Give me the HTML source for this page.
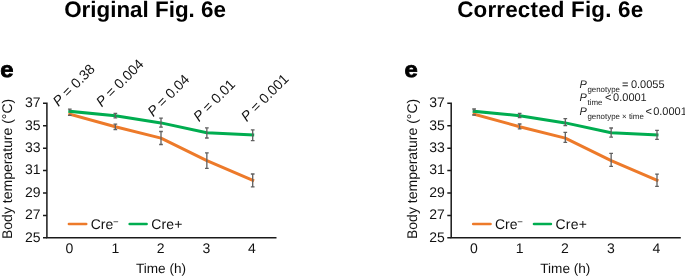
<!DOCTYPE html>
<html><head><meta charset="utf-8">
<style>
html,body{margin:0;padding:0;background:#fff;width:685px;height:276px;overflow:hidden}
svg{display:block;will-change:transform;text-rendering:geometricPrecision;font-family:"Liberation Sans",sans-serif}
.t{font-weight:bold;font-size:22.4px;fill:#000}
.lab{font-weight:bold;font-size:22.2px;fill:#000}
.tk{font-size:14px;fill:#111}
.ax{stroke:#1a1a1a;stroke-width:1.5;fill:none}
.eb{stroke:#606060;stroke-width:1.3;fill:none}
.g{stroke:#00AD50;stroke-width:3;fill:none;stroke-linejoin:round;stroke-linecap:square}
.o{stroke:#ED7A2A;stroke-width:3;fill:none;stroke-linejoin:round;stroke-linecap:square}
.pv{font-size:14px;fill:#111}
.pb{font-size:11px;fill:#222}
.sb{font-size:7.9px}
</style></head><body>
<svg width="685" height="276" viewBox="0 0 685 276">
<text class="t" x="64.2" y="17.2">Original Fig. 6e</text>
<text class="t" x="457.2" y="17.2" letter-spacing="0.19">Corrected Fig. 6e</text>
<g>
<text class="lab" transform="translate(0.2,76.9) scale(1.07,1)" stroke="#000" stroke-width="0.8">e</text>
<text class="tk" transform="translate(12.3,239) rotate(-90)">Body temperature (°C)</text>
<path class="ax" d="M43 103.35H46.9V237.85H276.5"/>
<path class="ax" d="M43 125.77H46.9M43 148.18H46.9M43 170.6H46.9M43 193.02H46.9M43 215.43H46.9M43 237.85H46.9"/>
<g class="tk" text-anchor="end">
<text x="40.5" y="107.3">37</text>
<text x="40.5" y="129.7">35</text>
<text x="40.5" y="152.1">33</text>
<text x="40.5" y="174.4">31</text>
<text x="40.5" y="196.8">29</text>
<text x="40.5" y="219.2">27</text>
<text x="40.5" y="241.6">25</text>
</g>
<g class="tk" text-anchor="middle">
<text x="69.5" y="252.5">0</text>
<text x="115.3" y="252.5">1</text>
<text x="160.6" y="252.5">2</text>
<text x="206.5" y="252.5">3</text>
<text x="252" y="252.5">4</text>
<text x="161" y="273" font-size="13.6">Time (h)</text>
</g>
<path d="M68.9 224H86.2" stroke="#ED7A2A" stroke-width="2.6" stroke-linecap="round"/>
<path d="M129.7 224H146.6" stroke="#00AD50" stroke-width="2.6" stroke-linecap="round"/>
<text class="tk" x="90.7" y="228.7">Cre<tspan font-size="9.6" dx="-0.3" dy="-4.1">−</tspan></text>
<text class="tk" x="151.2" y="228.7" letter-spacing="0.2">Cre+</text>
<path class="o" d="M69.80 114.20L115.35 126.70L161.00 138.10L206.85 160.60L252.70 180.40"/>
<path class="g" d="M69.80 111.30L115.35 115.70L161.00 122.90L206.85 132.80L252.70 135.00"/>
</g>
<path class="eb" d="M69.80 109.20V111.30M67.95 109.20H71.65M115.35 113.30V117.90M113.50 113.30H117.20M113.50 117.90H117.20M161.00 118.20V127.10M159.15 118.20H162.85M159.15 127.10H162.85M206.85 127.90V138.00M205.00 127.90H208.70M205.00 138.00H208.70M252.70 129.80V140.60M250.85 129.80H254.55M250.85 140.60H254.55M69.80 114.20V115.40M67.95 115.40H71.65M115.35 124.20V129.50M113.50 124.20H117.20M113.50 129.50H117.20M161.00 131.50V144.50M159.15 131.50H162.85M159.15 144.50H162.85M206.85 152.80V168.30M205.00 152.80H208.70M205.00 168.30H208.70M252.70 174.00V186.90M250.85 174.00H254.55M250.85 186.90H254.55"/>
<g class="pv">
<text transform="translate(58.5,107.1) rotate(-45)"><tspan font-style="italic">P</tspan> = 0.38</text>
<text transform="translate(101.8,107.6) rotate(-45)"><tspan font-style="italic">P</tspan> = 0.004</text>
<text transform="translate(153.2,117.3) rotate(-45)"><tspan font-style="italic">P</tspan> = 0.04</text>
<text transform="translate(198.9,122.3) rotate(-45)"><tspan font-style="italic">P</tspan> = 0.01</text>
<text transform="translate(246.8,122.3) rotate(-45)"><tspan font-style="italic">P</tspan> = 0.001</text>
</g>
<g transform="translate(404.3,0)">
<text class="lab" transform="translate(0.2,76.9) scale(1.07,1)" stroke="#000" stroke-width="0.8">e</text>
<text class="tk" transform="translate(12.3,239) rotate(-90)">Body temperature (°C)</text>
<path class="ax" d="M43 103.35H46.9V237.85H276.5"/>
<path class="ax" d="M43 125.77H46.9M43 148.18H46.9M43 170.6H46.9M43 193.02H46.9M43 215.43H46.9M43 237.85H46.9"/>
<g class="tk" text-anchor="end">
<text x="40.5" y="107.3">37</text>
<text x="40.5" y="129.7">35</text>
<text x="40.5" y="152.1">33</text>
<text x="40.5" y="174.4">31</text>
<text x="40.5" y="196.8">29</text>
<text x="40.5" y="219.2">27</text>
<text x="40.5" y="241.6">25</text>
</g>
<g class="tk" text-anchor="middle">
<text x="69.5" y="252.5">0</text>
<text x="115.3" y="252.5">1</text>
<text x="160.6" y="252.5">2</text>
<text x="206.5" y="252.5">3</text>
<text x="252" y="252.5">4</text>
<text x="161" y="273" font-size="13.6">Time (h)</text>
</g>
<path d="M68.9 224H86.2" stroke="#ED7A2A" stroke-width="2.6" stroke-linecap="round"/>
<path d="M129.7 224H146.6" stroke="#00AD50" stroke-width="2.6" stroke-linecap="round"/>
<text class="tk" x="90.7" y="228.7">Cre<tspan font-size="9.6" dx="-0.3" dy="-4.1">−</tspan></text>
<text class="tk" x="151.2" y="228.7" letter-spacing="0.2">Cre+</text>
<path class="o" d="M69.80 114.20L115.35 126.70L161.00 138.10L206.85 160.60L252.70 180.40"/>
<path class="g" d="M69.80 111.30L115.35 115.70L161.00 122.90L206.85 132.80L252.70 135.00"/>
</g>
<g transform="translate(404.3,0)"><path class="eb" d="M69.80 109.00V111.30M67.95 109.00H71.65M115.35 113.30V117.50M113.50 113.30H117.20M113.50 117.50H117.20M161.00 118.60V125.60M159.15 118.60H162.85M159.15 125.60H162.85M206.85 128.00V137.20M205.00 128.00H208.70M205.00 137.20H208.70M252.70 130.40V139.30M250.85 130.40H254.55M250.85 139.30H254.55M69.80 114.20V115.00M67.95 115.00H71.65M115.35 124.00V128.80M113.50 124.00H117.20M113.50 128.80H117.20M161.00 132.30V142.40M159.15 132.30H162.85M159.15 142.40H162.85M206.85 153.30V166.40M205.00 153.30H208.70M205.00 166.40H208.70M252.70 174.10V186.30M250.85 174.10H254.55M250.85 186.30H254.55"/></g>
<g class="pb">
<text x="579.5" y="87.6"><tspan font-style="italic">P</tspan><tspan class="sb" dx="0.6" dy="4.4">genotype</tspan><tspan dy="-4.4" dx="2.2">=</tspan><tspan dx="2.4">0.0055</tspan></text>
<text x="579.5" y="101.2"><tspan font-style="italic">P</tspan><tspan class="sb" dx="0.6" dy="3.8">time</tspan><tspan dy="-3.8" dx="2.6">&lt;</tspan><tspan dx="1.7">0.0001</tspan></text>
<text x="579.5" y="114.8"><tspan font-style="italic">P</tspan><tspan class="sb" dx="0.6" dy="3.8">genotype × time</tspan><tspan dy="-3.8" dx="1.7">&lt;</tspan><tspan dx="1.2">0.0001</tspan></text>
</g>
</svg>
</body></html>
